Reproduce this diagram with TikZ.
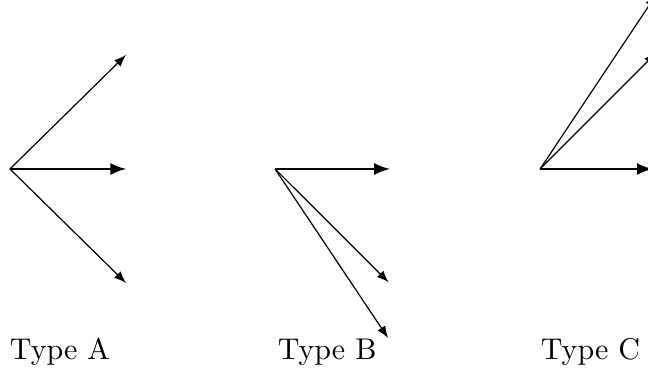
\documentclass[tikz,border=0pt]{standalone}
\begin{document}
\begin{tikzpicture}[scale=1.359, >=latex]
  \tikzstyle{ray}=[->,line width=0.4pt]
  \tikzstyle{axisray}=[->,line width=0.8pt]
  \tikzstyle{caption}=[anchor=base]
  \clip (0,0) rectangle (5.586,3.224);
  % Type A
  \coordinate (oa) at (0.086,1.767);
  \coordinate (a1) at (1.086,2.75);
  \coordinate (a2) at (1.086,1.767);
  \coordinate (a3) at (1.086,0.784);
  \draw[ray] (oa) -- (a1);
  \draw[axisray] (oa) -- (a2);
  \draw[ray] (oa) -- (a3);
  \node[caption] (la) at (0.517,0.129) {Type A};
  % Type B
  \coordinate (ob) at (2.371,1.767);
  \coordinate (b1) at (3.36,1.767);
  \coordinate (b2) at (3.35,0.79);
  \coordinate (b3) at (3.345,0.31);
  \draw[axisray] (ob) -- (b1);
  \draw[ray] (ob) -- (b2);
  \draw[ray] (ob) -- (b3);
  \node[caption] (lb) at (2.82,0.129) {Type B};
  % Type C
  \coordinate (oc) at (4.655,1.767);
  \coordinate (c1) at (5.625,1.767);
  \coordinate (c2) at (5.655,2.767);
  \coordinate (c3) at (5.655,3.267);
  \draw[axisray] (oc) -- (c1);
  \draw[ray] (oc) -- (c2);
  \draw[ray] (oc) -- (c3);
  \node[caption] (lc) at (5.09,0.129) {Type C};
\end{tikzpicture}
\end{document}
